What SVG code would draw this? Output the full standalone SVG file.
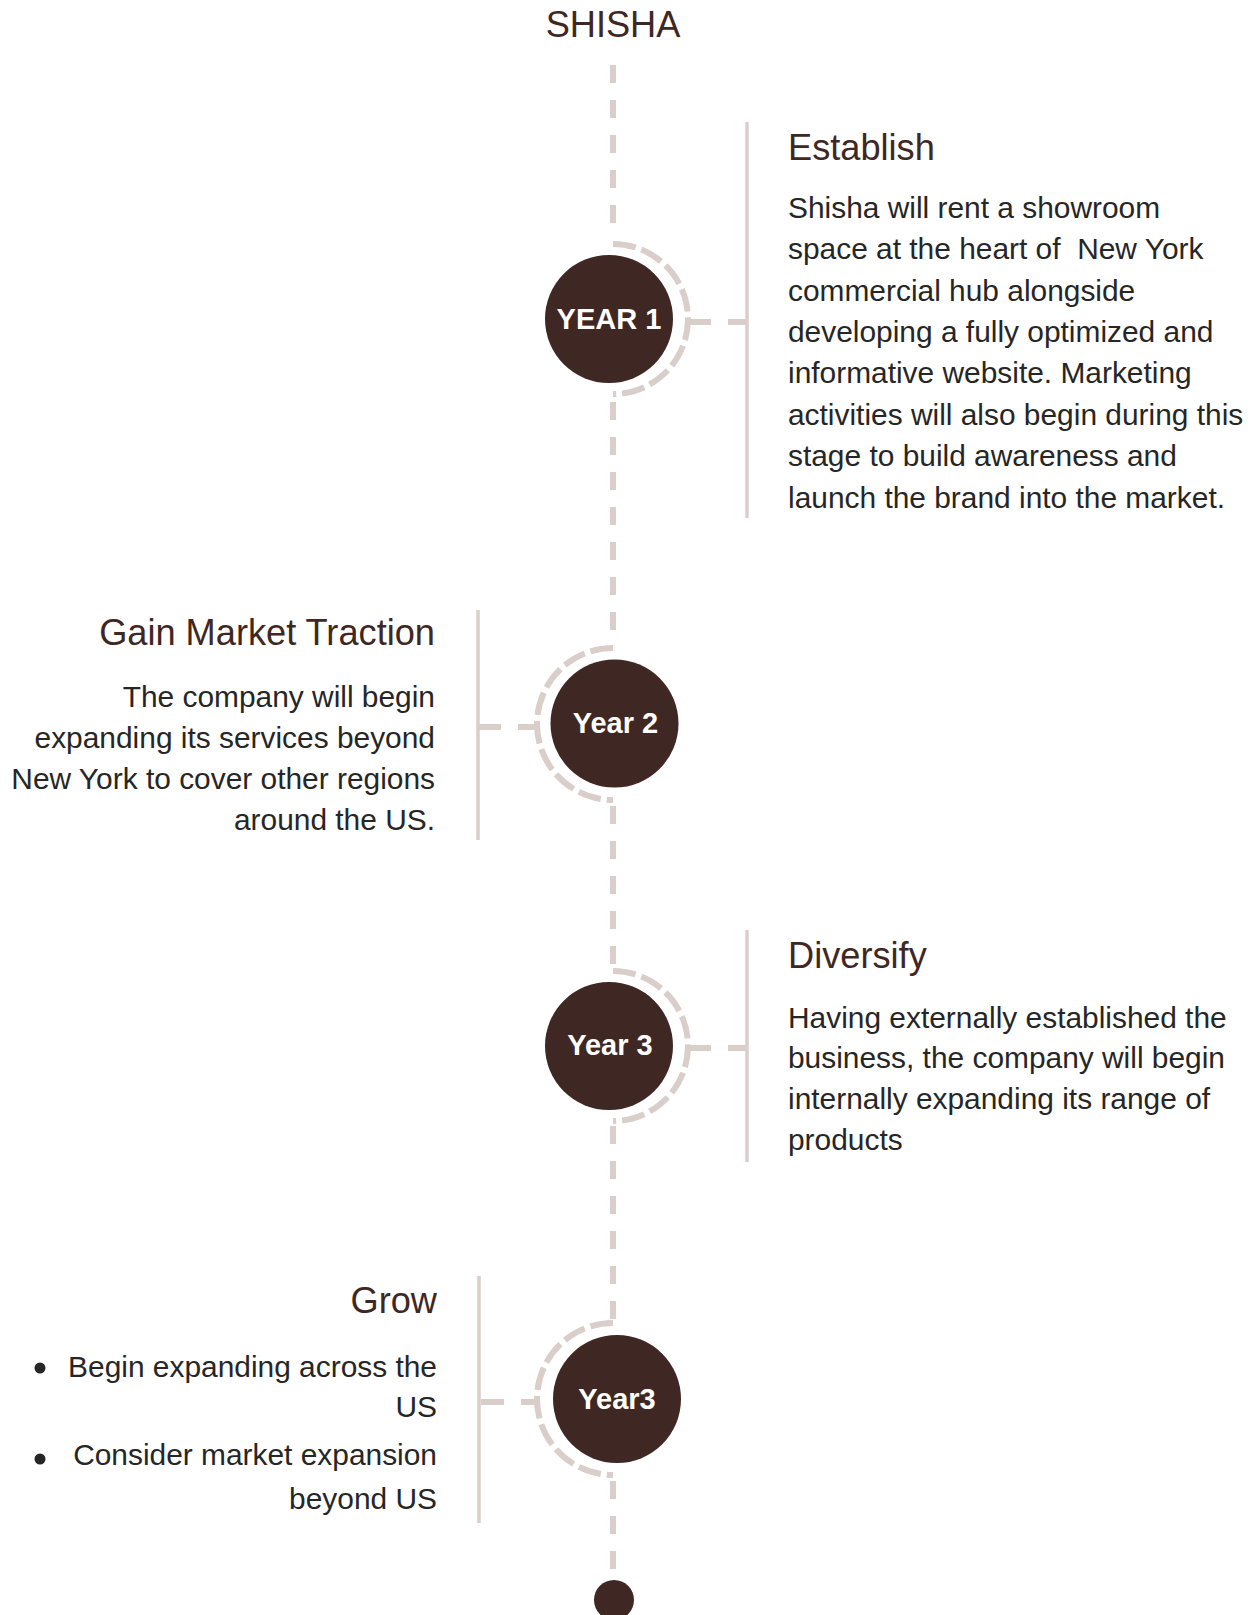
<svg xmlns="http://www.w3.org/2000/svg" width="1258" height="1615" viewBox="0 0 1258 1615">
<style>
.bg{fill:#ffffff}
.spine{stroke:#d9cec9;stroke-width:6;fill:none;stroke-dasharray:18 17}
.ring{stroke:#d9cec9;stroke-width:6;fill:none;stroke-dasharray:23 6}
.tick{stroke:#d9cec9;stroke-width:6;fill:none;stroke-dasharray:23 17}
.bar{stroke:#d9cec9;stroke-width:3.5;fill:none}
.disc{fill:#3f2723}
.yr{font-family:"Liberation Sans",Arial,sans-serif;font-weight:bold;font-size:29px;fill:#ffffff;text-anchor:middle}
.ttl{font-family:"Liberation Sans",Arial,sans-serif;font-size:36.2px;fill:#3f2723}
.body{font-family:"Liberation Sans",Arial,sans-serif;font-size:29.9px;fill:#262626}
.r{text-anchor:end}
</style>
<rect class="bg" x="0" y="0" width="1258" height="1615"/>
<text id="title" class="ttl" x="613" y="37" text-anchor="middle">SHISHA</text>
<g id="connectors">
  <line class="spine" x1="613" y1="65" x2="613" y2="240"/>
  <line class="spine" x1="613" y1="402" x2="613" y2="645"/>
  <line class="spine" x1="613" y1="806" x2="613" y2="966"/>
  <line class="spine" x1="613" y1="1126" x2="613" y2="1320"/>
  <line class="spine" x1="613" y1="1481" x2="613" y2="1582"/>
  <line class="tick" x1="688" y1="322" x2="747" y2="322"/>
  <line class="tick" x1="478" y1="727" x2="537" y2="727"/>
  <line class="tick" x1="688" y1="1048" x2="747" y2="1048"/>
  <line class="tick" x1="481" y1="1402" x2="540" y2="1402"/>
  <line class="bar" x1="747" y1="122" x2="747" y2="518"/>
  <line class="bar" x1="478" y1="610" x2="478" y2="840"/>
  <line class="bar" x1="747" y1="930" x2="747" y2="1162"/>
  <line class="bar" x1="479" y1="1276" x2="479" y2="1523"/>
</g>
<g id="year1">
  <path class="ring" d="M613,244 A75,75 0 0 1 613,394"/>
  <circle class="disc" cx="609" cy="319" r="64"/>
  <text class="yr" x="609" y="329">YEAR 1</text>
</g>
<g id="establish">
  <text class="ttl" x="788" y="160">Establish</text>
  <text class="body" x="788" y="218">Shisha will rent a showroom</text>
  <text class="body" x="788" y="259" xml:space="preserve">space at the heart of  New York</text>
  <text class="body" x="788" y="301">commercial hub alongside</text>
  <text class="body" x="788" y="342">developing a fully optimized and</text>
  <text class="body" x="788" y="383">informative website. Marketing</text>
  <text class="body" x="788" y="425">activities will also begin during this</text>
  <text class="body" x="788" y="466">stage to build awareness and</text>
  <text class="body" x="788" y="508">launch the brand into the market.</text>
</g>
<g id="year2">
  <path class="ring" d="M613,648 A76,76 0 0 0 613,800"/>
  <circle class="disc" cx="614.5" cy="723.5" r="64"/>
  <text class="yr" x="615.5" y="733">Year 2</text>
</g>
<g id="gain">
  <text class="ttl r" x="435" y="645">Gain Market Traction</text>
  <text class="body r" x="435" y="707">The company will begin</text>
  <text class="body r" x="435" y="748">expanding its services beyond</text>
  <text class="body r" x="435" y="789">New York to cover other regions</text>
  <text class="body r" x="435" y="830">around the US.</text>
</g>
<g id="year3">
  <path class="ring" d="M613,971 A75,75 0 0 1 613,1121"/>
  <circle class="disc" cx="609" cy="1046" r="64"/>
  <text class="yr" x="610" y="1055">Year 3</text>
</g>
<g id="diversify">
  <text class="ttl" x="788" y="968">Diversify</text>
  <text class="body" x="788" y="1028">Having externally established the</text>
  <text class="body" x="788" y="1068">business, the company will begin</text>
  <text class="body" x="788" y="1109">internally expanding its range of</text>
  <text class="body" x="788" y="1150">products</text>
</g>
<g id="year3b">
  <path class="ring" d="M613,1323 A76,76 0 0 0 613,1475"/>
  <circle class="disc" cx="617" cy="1399" r="64"/>
  <text class="yr" x="617" y="1409">Year3</text>
</g>
<g id="grow">
  <text class="ttl r" x="437" y="1313">Grow</text>
  <circle cx="40" cy="1368" r="5.5" fill="#262626"/>
  <text class="body r" x="437" y="1377">Begin expanding across the</text>
  <text class="body r" x="437" y="1417">US</text>
  <circle cx="40" cy="1459" r="5.5" fill="#262626"/>
  <text class="body r" x="437" y="1465">Consider market expansion</text>
  <text class="body r" x="437" y="1509">beyond US</text>
</g>
<g id="end">
  <circle class="disc" cx="614" cy="1600" r="20"/>
</g>
</svg>
